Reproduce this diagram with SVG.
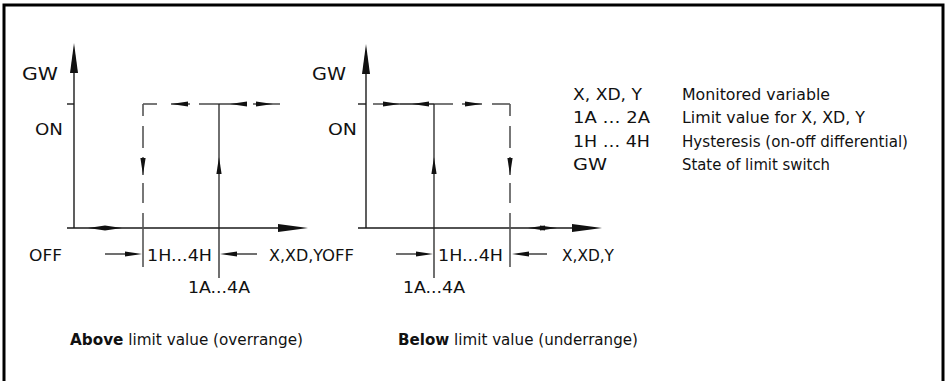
<svg xmlns="http://www.w3.org/2000/svg" xmlns:xlink="http://www.w3.org/1999/xlink" width="946" height="381" viewBox="0 0 946 381">
<style>
text{font-family:"DejaVu Sans","Liberation Sans",sans-serif;font-size:16.5px;fill:#111}
.b{font-weight:bold}
.ax{stroke:#1a1a1a;stroke-width:1.4;fill:none}
.sl{stroke:#222;stroke-width:1.3;fill:none}
.ds{stroke:#555;stroke-width:1.6;fill:none}
.ah{fill:#111}
</style>
<defs>
<path id="a" d="M0,0 L-17,-2.6 L-17,2.6 Z"/>
<path id="ab" d="M0,0 L-30,-4 L-30,4 Z"/>
</defs>
<rect x="4" y="5" width="939" height="400" fill="none" stroke="#000" stroke-width="3"/>

<g id="left-diagram">
  <g id="left-axes">
    <line class="ax" x1="74" y1="60" x2="74" y2="228"/>
    <use class="ah" href="#ab" transform="translate(74,43) rotate(-90)"/>
    <line class="ax" x1="67" y1="228" x2="285" y2="228"/>
    <use class="ah" href="#ab" transform="translate(308,228)"/>
    <line class="ax" x1="67" y1="104" x2="74" y2="104"/>
  </g>
  <g id="left-connectors">
    <line class="ds" x1="143" y1="104" x2="157" y2="104"/>
    <line class="ds" x1="171" y1="104" x2="190" y2="104"/>
    <line class="ds" x1="199" y1="104" x2="219" y2="104"/>
    <line class="sl" x1="219" y1="104" x2="245" y2="104"/>
    <line class="ds" x1="253" y1="104" x2="280" y2="104"/>
    <use class="ah" href="#a" transform="translate(171,104) rotate(180)"/>
    <use class="ah" href="#a" transform="translate(230,104) rotate(180)"/>
    <use class="ah" href="#a" transform="translate(273,104)"/>
    <line class="ds" x1="143" y1="104" x2="143" y2="116"/>
    <line class="ds" x1="143" y1="126" x2="143" y2="148"/>
    <line class="ds" x1="143" y1="157" x2="143" y2="175"/>
    <line class="ds" x1="143" y1="183" x2="143" y2="203"/>
    <line class="ds" x1="143" y1="213" x2="143" y2="267"/>
    <use class="ah" href="#a" transform="translate(143,175) rotate(90)"/>
    <line class="sl" x1="219" y1="104" x2="219" y2="278"/>
    <use class="ah" href="#a" transform="translate(219,157) rotate(-90)"/>
    <use class="ah" href="#a" transform="translate(88,228) rotate(180)"/>
    <use class="ah" href="#a" transform="translate(122,228)"/>
    <line class="sl" x1="105" y1="254" x2="128" y2="254"/>
    <use class="ah" href="#a" transform="translate(142,254)"/>
    <line class="sl" x1="232" y1="254" x2="257" y2="254"/>
    <use class="ah" href="#a" transform="translate(220,254) rotate(180)"/>
  </g>
  <text x="22" y="80" textLength="36" lengthAdjust="spacingAndGlyphs" style="font-size:17.5px">GW</text>
  <text x="35" y="135" textLength="28" lengthAdjust="spacingAndGlyphs">ON</text>
  <text x="29" y="261" textLength="33" lengthAdjust="spacingAndGlyphs">OFF</text>
  <text x="147" y="261" textLength="65" lengthAdjust="spacingAndGlyphs">1H...4H</text>
  <text x="269" y="261" textLength="54" lengthAdjust="spacingAndGlyphs">X,XD,Y</text>
  <text x="188" y="293" textLength="62" lengthAdjust="spacingAndGlyphs">1A...4A</text>
  <text x="70" y="345" textLength="233" lengthAdjust="spacingAndGlyphs"><tspan class="b">Above</tspan> limit value (overrange)</text>
</g>

<g id="right-diagram">
  <g id="right-axes">
    <line class="ax" x1="366" y1="60" x2="366" y2="228"/>
    <use class="ah" href="#ab" transform="translate(366,44) rotate(-90)"/>
    <line class="ax" x1="358" y1="228" x2="580" y2="228"/>
    <use class="ah" href="#ab" transform="translate(602,228)"/>
    <line class="ax" x1="358" y1="104" x2="366" y2="104"/>
  </g>
  <g id="right-connectors">
    <line class="ds" x1="373" y1="104" x2="400" y2="104"/>
    <line class="sl" x1="400" y1="104" x2="434" y2="104"/>
    <line class="ds" x1="434" y1="104" x2="453" y2="104"/>
    <line class="ds" x1="462" y1="104" x2="482" y2="104"/>
    <line class="ds" x1="492" y1="104" x2="510" y2="104"/>
    <use class="ah" href="#a" transform="translate(400,104)"/>
    <use class="ah" href="#a" transform="translate(412,104) rotate(180)"/>
    <use class="ah" href="#a" transform="translate(482,104)"/>
    <line class="ds" x1="510" y1="104" x2="510" y2="116"/>
    <line class="ds" x1="510" y1="126" x2="510" y2="148"/>
    <line class="ds" x1="510" y1="157" x2="510" y2="175"/>
    <line class="ds" x1="510" y1="183" x2="510" y2="203"/>
    <line class="ds" x1="510" y1="213" x2="510" y2="267"/>
    <use class="ah" href="#a" transform="translate(510,175) rotate(90)"/>
    <line class="sl" x1="434" y1="104" x2="434" y2="278"/>
    <use class="ah" href="#a" transform="translate(434,157) rotate(-90)"/>
    <use class="ah" href="#a" transform="translate(528,228) rotate(180)"/>
    <use class="ah" href="#a" transform="translate(557,228)"/>
    <line class="sl" x1="396" y1="254" x2="420" y2="254"/>
    <use class="ah" href="#a" transform="translate(433,254)"/>
    <line class="sl" x1="524" y1="254" x2="547" y2="254"/>
    <use class="ah" href="#a" transform="translate(512,254) rotate(180)"/>
  </g>
  <text x="312" y="80" textLength="34" lengthAdjust="spacingAndGlyphs" style="font-size:17.5px">GW</text>
  <text x="328" y="135" textLength="29" lengthAdjust="spacingAndGlyphs">ON</text>
  <text x="322" y="261" textLength="32" lengthAdjust="spacingAndGlyphs">OFF</text>
  <text x="438" y="261" textLength="65" lengthAdjust="spacingAndGlyphs">1H...4H</text>
  <text x="562" y="261" textLength="52" lengthAdjust="spacingAndGlyphs">X,XD,Y</text>
  <text x="403" y="293" textLength="62" lengthAdjust="spacingAndGlyphs">1A...4A</text>
  <text x="398" y="345" textLength="240" lengthAdjust="spacingAndGlyphs"><tspan class="b">Below</tspan> limit value (underrange)</text>
</g>

<g id="legend">
  <text x="573" y="100" textLength="69" lengthAdjust="spacingAndGlyphs">X, XD, Y</text>
  <text x="573" y="123" textLength="77" lengthAdjust="spacingAndGlyphs">1A … 2A</text>
  <text x="573" y="147" textLength="77" lengthAdjust="spacingAndGlyphs">1H … 4H</text>
  <text x="573" y="170" textLength="34" lengthAdjust="spacingAndGlyphs">GW</text>
  <text x="682" y="100" textLength="148" lengthAdjust="spacingAndGlyphs">Monitored variable</text>
  <text x="682" y="123" textLength="183" lengthAdjust="spacingAndGlyphs">Limit value for X, XD, Y</text>
  <text x="682" y="147" textLength="226" lengthAdjust="spacingAndGlyphs">Hysteresis (on-off differential)</text>
  <text x="682" y="170" textLength="148" lengthAdjust="spacingAndGlyphs">State of limit switch</text>
</g>
</svg>
